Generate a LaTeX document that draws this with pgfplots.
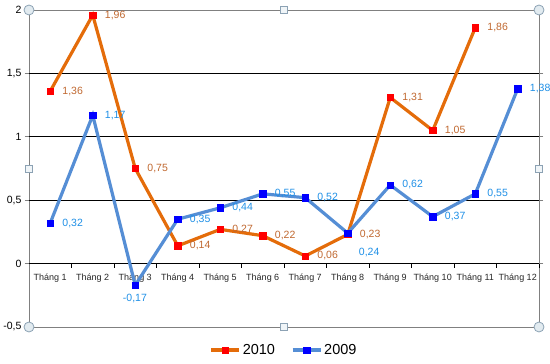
\documentclass[border=0pt]{standalone}
\usepackage{pgfplots}
\pgfplotsset{compat=1.18}
\usepackage{fontspec}
\setmainfont{Liberation Sans}
\definecolor{oline}{HTML}{E46C0A}
\definecolor{bline}{HTML}{558ED5}
\definecolor{otext}{HTML}{C06830}
\definecolor{btext}{HTML}{1E8FE6}
\definecolor{hfill}{HTML}{E2EBF0}
\definecolor{hdraw}{HTML}{8CA2B4}
\begin{document}
\begin{tikzpicture}
\path[use as bounding box] (-29bp,-37bp) rectangle (521bp,327bp);
\begin{axis}[
  at={(0,0)}, anchor=south west,
  scale only axis, width=510bp, height=317bp,
  xmin=0.5, xmax=12.5, ymin=-0.5, ymax=2,
  xtick={1,...,12},
  xticklabels={Tháng 1,Tháng 2,Tháng 3,Tháng 4,Tháng 5,Tháng 6,Tháng 7,Tháng 8,Tháng 9,Tháng 10,Tháng 11,Tháng 12},
  x tick style={draw=none},
  x tick label style={font=\fontsize{9bp}{10bp}\selectfont, yshift=61bp, text=black!85},
  ytick={-0.5,0,0.5,1,1.5,2},
  yticklabels={{-0,5},{0},{0,5},{1},{1,5},{2}},
  y tick label style={font=\fontsize{10.5bp}{12bp}\selectfont},
  tick align=outside, major tick length=4bp,
  y tick style={draw=gray, line width=0.8bp},
  axis line style={draw=gray, line width=0.8bp},
  extra y ticks={0,0.5,1,1.5},
  extra y tick labels={},
  extra y tick style={grid=major, major grid style={black, line width=0.8bp}, tick style={draw=black}},
  clip=false,
  legend style={at={(0.5,-0.0726)}, anchor=center, draw=none, fill=none,
    font=\fontsize{14.5bp}{16bp}\selectfont,
    /tikz/every even column/.append style={column sep=14bp}},
  legend columns=2,
  legend image code/.code={\draw[mark repeat=2,mark phase=2] plot coordinates {(0bp,0bp) (14bp,0bp) (28bp,0bp)};},
]
\pgfplotsinvokeforeach{1.5,2.5,...,12.5}{\draw[black, line width=0.8bp] (axis cs:#1,0) -- ([yshift=-4bp]axis cs:#1,0);}
\addplot[oline, line width=3.2bp, mark=square*, mark size=3.2bp,
  mark options={fill=red, draw=red, line width=0.4bp},
  nodes near coords, point meta=explicit symbolic,
  visualization depends on={\thisrow{dx}\as\dx},
  visualization depends on={\thisrow{dy}\as\dy},
  nodes near coords style={anchor=west, inner sep=0pt, xshift=\dx bp, yshift=\dy bp, text=otext, font=\fontsize{10.5bp}{12bp}\selectfont}]
  table[x=x, y=y, meta=lab] {
x y lab dx dy
1 1.36 1,36 12 0
2 1.96 1,96 12 0
3 0.75 0,75 12 0
4 0.14 0,14 12 0
5 0.27 0,27 12 0
6 0.22 0,22 12 0
7 0.06 0,06 12 0
8 0.23 0,23 12 0
9 1.31 1,31 12 0
10 1.05 1,05 12 0
11 1.86 1,86 12 0
};
\addplot[bline, line width=3.2bp, mark=square*, mark size=3.2bp,
  mark options={fill=blue, draw=blue, line width=0.4bp},
  nodes near coords, point meta=explicit symbolic,
  visualization depends on={\thisrow{dx}\as\dx},
  visualization depends on={\thisrow{dy}\as\dy},
  nodes near coords style={anchor=west, inner sep=0pt, xshift=\dx bp, yshift=\dy bp, text=btext, font=\fontsize{10.5bp}{12bp}\selectfont}]
  table[x=x, y=y, meta=lab] {
x y lab dx dy
1 0.32 0,32 12 0
2 1.17 1,17 12 0
3 -0.17 -0,17 -12.5 -13
4 0.35 0,35 12 0
5 0.44 0,44 12 0
6 0.55 0,55 12 0
7 0.52 0,52 12 0
8 0.24 0,24 11 -19
9 0.62 0,62 12 0
10 0.37 0,37 12 0
11 0.55 0,55 12 0
12 1.38 1,38 12 0
};
\legend{2010,2009}
\draw[hdraw, fill=hfill, line width=0.8bp] (rel axis cs:0,0) circle[radius=5bp];
\draw[hdraw, fill=hfill, line width=0.8bp] (rel axis cs:1,0) circle[radius=5bp];
\draw[hdraw, fill=hfill, line width=0.8bp] (rel axis cs:0,1) circle[radius=5bp];
\draw[hdraw, fill=hfill, line width=0.8bp] (rel axis cs:1,1) circle[radius=5bp];
\node[draw=hdraw, fill=hfill!50, line width=0.8bp, minimum size=7bp, inner sep=0pt] at (rel axis cs:0.5,1) {};
\node[draw=hdraw, fill=hfill!50, line width=0.8bp, minimum size=7bp, inner sep=0pt] at (rel axis cs:0.5,0) {};
\node[draw=hdraw, fill=hfill!50, line width=0.8bp, minimum size=7bp, inner sep=0pt] at (rel axis cs:0,0.5) {};
\node[draw=hdraw, fill=hfill!50, line width=0.8bp, minimum size=7bp, inner sep=0pt] at (rel axis cs:1,0.5) {};
\end{axis}
\end{tikzpicture}
\end{document}
